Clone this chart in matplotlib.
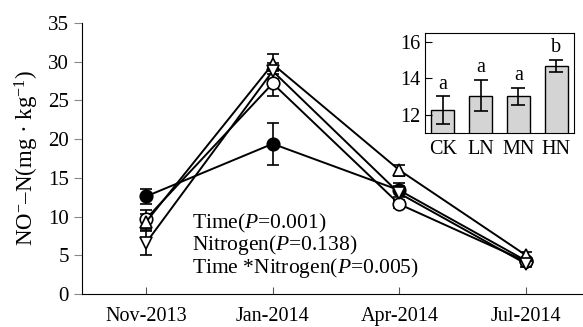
import matplotlib
matplotlib.use('Agg')
from matplotlib import pyplot as plt

plt.rcParams['font.family'] = 'Liberation Serif'
plt.rcParams['mathtext.fontset'] = 'custom'
plt.rcParams['mathtext.rm'] = 'Liberation Serif'
plt.rcParams['mathtext.it'] = 'Liberation Serif:italic'

# sampling dates
dates = ['Nov-2013', 'Jan-2014', 'Apr-2014', 'Jul-2014']

# NO3-N per treatment (mean, error)
ck_mean = [12.6, 19.4, 13.4, 4.3]
ck_err = [1.0, 2.7, 0.9, 0.3]
ln_mean = [9.7, 27.2, 11.6, 4.2]
ln_err = [1.2, 1.6, 0.5, 0.3]
mn_mean = [9.3, 29.7, 16.0, 5.0]
mn_err = [1.0, 1.3, 0.7, 0.4]
hn_mean = [6.6, 28.8, 13.0, 3.9]
hn_err = [1.6, 1.0, 1.0, 0.4]

# inset: treatment averages
treatments = ['CK', 'LN', 'MN', 'HN']
avg_mean = [12.27, 13.05, 13.02, 14.67]
avg_err = [0.75, 0.85, 0.45, 0.33]
avg_letters = ['a', 'a', 'a', 'b']

stats_text = ['Time($\\mathit{P}$=0.001)',
              'Nitrogen($\\mathit{P}$=0.138)',
              'Time *Nitrogen($\\mathit{P}$=0.005)']

fig = plt.figure(figsize=(5.83, 3.27), dpi=100)
ax = fig.add_axes([0.1407, 0.1009, 0.8593, 0.8287])

x = list(range(len(dates)))
series = [(ck_mean, ck_err, 'o', 'black'),
          (ln_mean, ln_err, 'o', 'white'),
          (mn_mean, mn_err, '^', 'white'),
          (hn_mean, hn_err, 'v', 'white')]
for mean, err, mk, fc in series:
    ax.errorbar(x, mean, yerr=err, color='black', lw=1.4, marker=mk,
                markersize=9, markerfacecolor=fc, markeredgecolor='black',
                markeredgewidth=1.2, capsize=4.5, elinewidth=1.2, capthick=1.2)

ax.set_xlim(-0.505, 3.45)
ax.set_ylim(0, 35)
ax.set_yticks(range(0, 36, 5))
ax.set_xticks(x)
ax.set_xticklabels(dates)
ax.spines['top'].set_visible(False)
ax.spines['right'].set_visible(False)
ax.tick_params(axis='x', direction='in', length=5, labelsize=14.5, pad=9, color='#555555')
ax.tick_params(axis='y', direction='out', length=6, labelsize=15, color='#888888')
ax.set_ylabel('NO$^{-}$–N(mg · kg$^{-1}$)', fontsize=16.5, labelpad=5)

for i, s in enumerate(stats_text):
    ax.text(0.22, 0.262 - i * 0.083, s, transform=ax.transAxes, fontsize=15.5,
            va='center', ha='left')

# inset bar chart
ins = fig.add_axes([0.729, 0.593, 0.2556, 0.306])
xi = list(range(len(treatments)))
ins.bar(xi, avg_mean, width=0.6, color='#d4d4d4', edgecolor='black', linewidth=1.0,
        yerr=avg_err, capsize=5, error_kw=dict(elinewidth=1.2, capthick=1.2))
for i, lab in enumerate(avg_letters):
    ins.text(i, avg_mean[i] + avg_err[i] + 0.15, lab, ha='center', va='bottom', fontsize=14.5)
ins.set_xlim(-0.47, 3.47)
ins.set_ylim(11.02, 16.47)
ins.set_yticks([12, 14, 16])
ins.set_xticks(xi)
ins.set_xticklabels(treatments)
ins.tick_params(axis='y', direction='in', length=5, labelsize=14.5, pad=3)
ins.tick_params(axis='x', length=0, labelsize=14.5, pad=5)

fig.savefig('out.png', dpi=100)
